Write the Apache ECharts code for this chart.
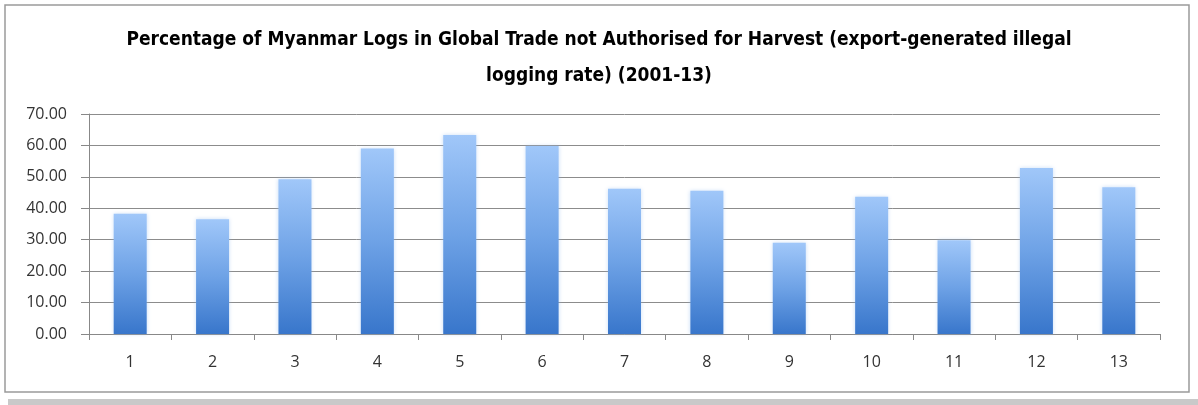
<!DOCTYPE html>
<html>
<head>
<meta charset="utf-8">
<script src="https://cdn.jsdelivr.net/npm/echarts@6/dist/echarts.min.js"></script>
<style>
html,body{margin:0;padding:0;background:#fff;}
#c{width:1198px;height:405px;}
</style>
</head>
<body>
<div id="c"></div>
<script>
const titleText = "Percentage of Myanmar Logs in Global Trade not Authorised for Harvest (export-generated illegal\nlogging rate) (2001-13)";
const categories = ["1","2","3","4","5","6","7","8","9","10","11","12","13"];
const values = [38.3, 36.5, 49.2, 59.0, 63.3, 59.8, 46.2, 45.6, 29.0, 43.7, 29.8, 52.8, 46.7];
const yMin = 0, yMax = 70, yStep = 10;

const chart = echarts.init(document.getElementById('c'), null, {renderer:'canvas'});
chart.setOption({
  animation:false,
  backgroundColor:'#ffffff',
  graphic:[
    {type:'rect', shape:{x:5,y:5,width:1184,height:387}, style:{fill:'none', stroke:'#9a9a9a', lineWidth:1.5}, z:-1},
    {type:'rect', shape:{x:8,y:399,width:1190,height:6}, style:{fill:'#c9c9c9'}, z:-1}
  ],
  title:{
    text:titleText,
    left:'center',
    top:17,
    textStyle:{fontFamily:'DejaVu Sans Condensed', fontWeight:'bold', fontSize:19, color:'#000', lineHeight:36}
  },
  grid:{left:89, right:38, top:114, bottom:71, containLabel:false},
  xAxis:{
    type:'category',
    data:categories,
    axisLine:{show:true, lineStyle:{color:'#888', width:1}},
    axisTick:{show:true, alignWithLabel:false, length:6, lineStyle:{color:'#888'}},
    axisLabel:{color:'#333', fontFamily:'Open Sans', fontSize:16, margin:20}
  },
  yAxis:{
    type:'value',
    min:yMin, max:yMax, interval:yStep,
    axisLine:{show:true, lineStyle:{color:'#888', width:1}},
    axisTick:{show:true, length:8, lineStyle:{color:'#888'}},
    axisLabel:{color:'#333', fontFamily:'Open Sans', fontSize:16, margin:22, formatter:v=>v.toFixed(2)},
    splitLine:{show:true, lineStyle:{color:'#8c8c8c', width:1}}
  },
  series:[{
    type:'bar',
    data:values,
    barWidth:33,
    itemStyle:{
      color:new echarts.graphic.LinearGradient(0,0,0,1,[
        {offset:0, color:'#a0c7f9'},
        {offset:0.5, color:'#6ea2e6'},
        {offset:1, color:'#3876cb'}
      ]),
      shadowBlur:4, shadowColor:'rgba(150,190,240,0.5)'
    }
  }]
});
</script>
</body>
</html>
